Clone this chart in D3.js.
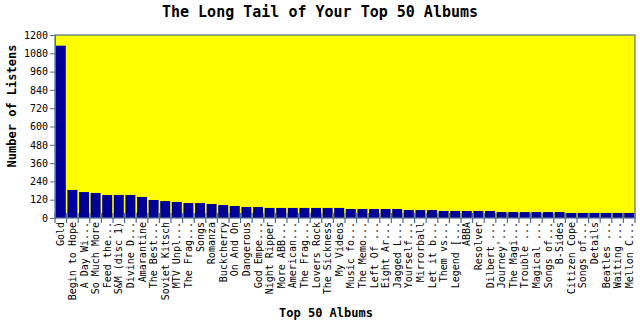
<!DOCTYPE html>
<html><head><meta charset="utf-8">
<script src="https://cdn.jsdelivr.net/npm/d3@7"></script>
<style>
body{margin:0;background:#fff;}
text{font-family:"DejaVu Sans Mono",monospace;}
</style></head>
<body><svg id="c" width="640" height="320"></svg>
<script>
const albums = ["Gold","Begin to Hope","A Day Wi...","So Much More","Feed the...","S&M (disc 1)","Divine D...","Amarantine","The Best...","Soviet Kitsch","MTV Unpl...","The Frag...","Songs","Romanza","Buckcherry","On And On","Dangerous","God Empe...","Night Ripper","More ABB...","American...","The Frag...","Lovers Rock","The Sickness","My Videos","Music fo...","The Memo...","Left Of ...","Eight Ar...","Jagged L...","Yourself...","Mirrorball","Let it b...","Them vs...","Legend [...","ABBA","Resolver","Dilbert ...","Journey'...","The Magi...","Trouble ...","Magical ...","Songs of...","B-Sides","Citizen Cope","Songs of...","Details","Beatles ...","Waiting ...","Mellon C..."];
const listens = [1130,184,170,164,151,151,151,138,118,111,105,98,98,92,85,79,72,72,66,66,66,66,66,66,66,59,59,59,59,59,52,52,52,46,46,46,46,46,39,39,39,39,39,39,33,33,33,33,33,33];
const yTicks = [0,120,240,360,480,600,720,840,960,1080,1200];
const title = "The Long Tail of Your Top 50 Albums";
const xTitle = "Top 50 Albums";
const yTitle = "Number of Listens";

const svg = d3.select("#c");
const L=55,R=635,T=35,B=218;
const axisCol="#50708f";
const x = d3.scaleBand().domain(d3.range(albums.length)).range([L,R]).paddingInner(0.14).paddingOuter(0.07);
const y = d3.scaleLinear().domain([0,1200]).range([B,T]);

svg.append("rect").attr("x",L).attr("y",T).attr("width",R-L).attr("height",B-T).attr("fill","#ffff00");
svg.selectAll("rect.bar").data(listens).enter().append("rect").attr("class","bar")
  .attr("x",(d,i)=>x(i)).attr("width",x.bandwidth())
  .attr("y",d=>y(d)).attr("height",d=>B-y(d)).attr("fill","#000099");

// border
svg.append("rect").attr("x",L).attr("y",T).attr("width",R-L).attr("height",B-T)
  .attr("fill","none").attr("stroke",axisCol).attr("stroke-width",1.2);

// y axis
const yAxis = d3.axisLeft(y).tickValues(yTicks).tickFormat(d3.format("d")).tickSize(5).tickPadding(2);
const ga = svg.append("g").attr("transform",`translate(${L},0)`).call(yAxis);
ga.select(".domain").attr("stroke",axisCol);
ga.selectAll(".tick line").attr("stroke",axisCol);
ga.selectAll("text").attr("font-size",10).attr("fill","#000").style("font-family","'DejaVu Sans Mono',monospace");

// x ticks at band boundaries
const bounds = d3.range(albums.length+1).map(i=>L+i*(R-L)/albums.length);
svg.selectAll("line.xt").data(bounds).enter().append("line")
  .attr("x1",d=>d).attr("x2",d=>d).attr("y1",B-5).attr("y2",B+5)
  .attr("stroke",axisCol).attr("stroke-width",1.2);

// x labels
svg.selectAll("text.xl").data(albums).enter().append("text")
  .attr("transform",(d,i)=>`translate(${x(i)+x.bandwidth()/2+3.5},${B+4}) rotate(-90)`)
  .attr("text-anchor","end").attr("font-size",10).text(d=>d);

svg.append("text").attr("x",320).attr("y",17).attr("text-anchor","middle")
  .attr("font-size",15).attr("font-weight","bold").text(title);
svg.append("text").attr("x",326).attr("y",317).attr("text-anchor","middle")
  .attr("font-size",12).attr("font-weight","bold").text(xTitle);
svg.append("text").attr("transform","translate(16,106) rotate(-90)").attr("text-anchor","middle")
  .attr("font-size",12).attr("font-weight","bold").text(yTitle);
</script></body></html>
